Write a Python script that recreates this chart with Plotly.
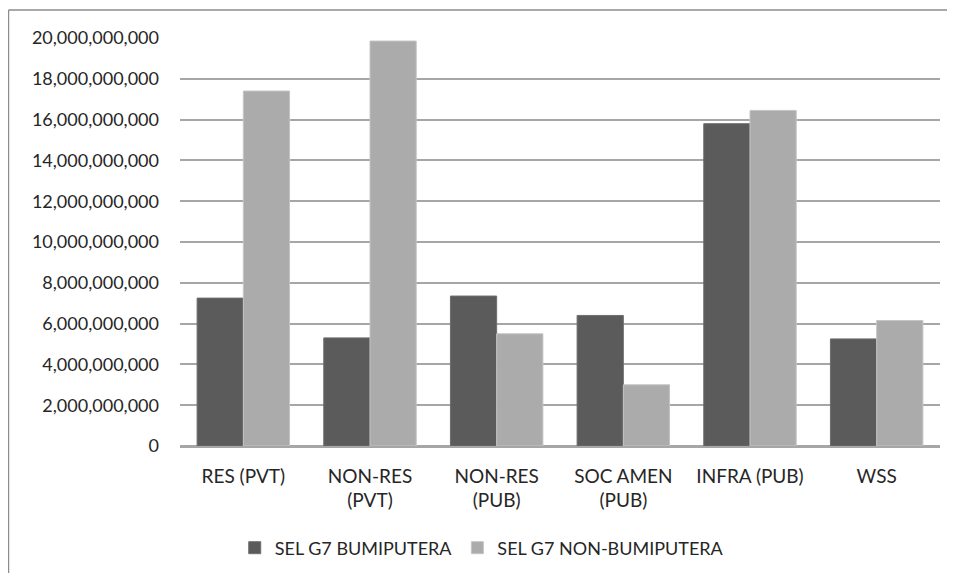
import plotly.graph_objects as go

categories = ["RES (PVT)", "NON-RES<br>(PVT)", "NON-RES<br>(PUB)", "SOC AMEN<br>(PUB)", "INFRA (PUB)", "WSS"]
bumiputera = [7.25e9, 5.3e9, 7.35e9, 6.4e9, 15.8e9, 5.25e9]
non_bumiputera = [17.4e9, 19.85e9, 5.5e9, 3.0e9, 16.45e9, 6.15e9]
tick_vals = list(range(0, 20000000001, 2000000000))

fig = go.Figure()
fig.add_trace(go.Bar(x=categories, y=bumiputera, name="SEL G7 BUMIPUTERA",
                     marker=dict(color="#5b5b5b", line=dict(color="#6e6e6e", width=1))))
fig.add_trace(go.Bar(x=categories, y=non_bumiputera, name="SEL G7 NON-BUMIPUTERA",
                     marker=dict(color="#ababab", line=dict(color="#c4c4c4", width=1))))

# page body has an 8px margin, so the figure is a bit smaller than the window
fig.update_layout(
    width=939, height=565,
    margin=dict(l=172, r=7, t=30, b=127),
    paper_bgcolor="white", plot_bgcolor="white",
    font=dict(family="Lato", size=19, color="#262626"),
    barmode="group", bargap=0.27, bargroupgap=0,
    legend=dict(orientation="h", x=0.072, xanchor="left", y=-0.25, yanchor="middle",
                font=dict(size=18), traceorder="normal"),
    showlegend=True,
)
fig.update_yaxes(range=[0, 20e9], tickvals=tick_vals, tickformat=",d",
                 tickfont=dict(size=18),
                 showgrid=True, gridcolor="#a6a6a6", gridwidth=1.5,
                 zeroline=True, zerolinecolor="#a6a6a6", zerolinewidth=1.5,
                 ticklabelstandoff=20, showline=False)
fig.update_xaxes(showline=True, linecolor="#a6a6a6", linewidth=1.5, ticks="",
                 ticklabelstandoff=12)

# outer chart border: only top and left edges are inside the picture
border = dict(color="#8c8c8c", width=1.5)
fig.add_shape(type="line", xref="paper", yref="paper",
              x0=-0.2257, x1=1.01, y0=1.0686, y1=1.0686, line=border, layer="below")
fig.add_shape(type="line", xref="paper", yref="paper",
              x0=-0.2257, x1=-0.2257, y0=-0.32, y1=1.0686, line=border, layer="below")

fig.write_html("out.html")
